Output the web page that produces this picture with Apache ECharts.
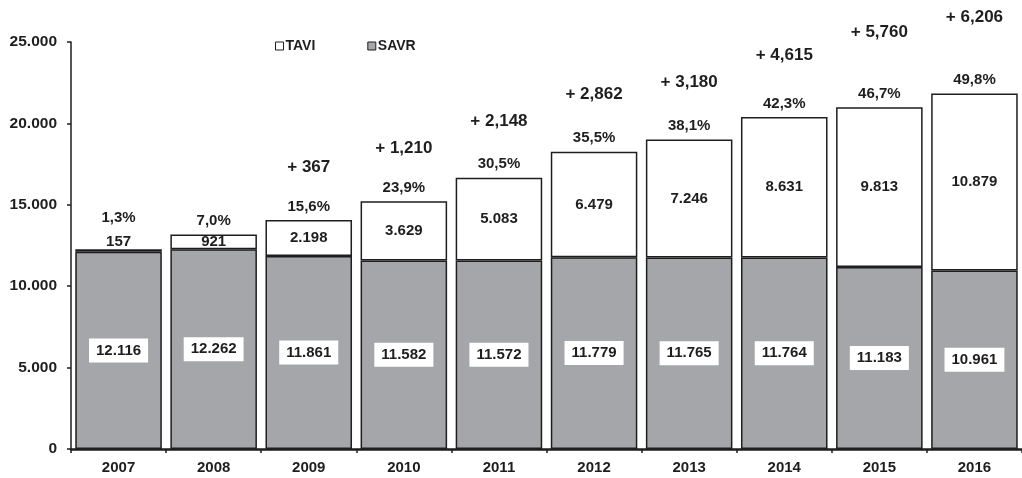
<!DOCTYPE html>
<html>
<head>
<meta charset="utf-8">
<script src="https://cdn.jsdelivr.net/npm/echarts@6/dist/echarts.min.js"></script>
<style>
  html, body { margin: 0; background: #fff; }
  #chart { width: 1022px; height: 478px; }
</style>
</head>
<body>
<div id="chart"></div>
<script>
// values
const years = ['2007', '2008', '2009', '2010', '2011', '2012', '2013', '2014', '2015', '2016'];
const savr = [12116, 12262, 11861, 11582, 11572, 11779, 11765, 11764, 11183, 10961];
const tavi = [157, 921, 2198, 3629, 5083, 6479, 7246, 8631, 9813, 10879];
const taviShare = [1.3, 7.0, 15.6, 23.9, 30.5, 35.5, 38.1, 42.3, 46.7, 49.8];
const gains = [null, null, 367, 1210, 2148, 2862, 3180, 4615, 5760, 6206];
// height (in axis units) where each "+ n" note sits
const gainLabelAt = [null, null, 17300, 18500, 20100, 21800, 22500, 24200, 25600, 26500];

const FONT = '"Liberation Sans", Arial, sans-serif';
const INK = '#1e1e1e';
const GREY = '#a4a6a9';

const dotted = n => String(n).replace(/\B(?=(\d{3})+(?!\d))/g, '.');
const commaed = n => String(n).replace(/\B(?=(\d{3})+(?!\d))/g, ',');

const totals = savr.map((v, i) => v + tavi[i]);

const taviData = tavi.map(v => {
  // tiny slices get their number on top of the bar
  if (v < 500) return { value: v, label: { position: 'top', distance: 0 } };
  return v;
});

const shareData = totals.map((v, i) => {
  if (tavi[i] < 500) return { value: v, label: { distance: 24 } };
  return v;
});

const noteLabel = size => ({
  show: true,
  color: INK,
  fontWeight: 'bold',
  fontSize: size,
  fontFamily: FONT,
  opacity: 1
});

const chart = echarts.init(document.getElementById('chart'));

chart.setOption({
  animation: false,
  textStyle: { fontFamily: FONT },
  legend: {
    data: ['TAVI', 'SAVR'],
    left: 270,
    top: 34,
    icon: 'rect',
    itemWidth: 8,
    itemHeight: 8,
    itemGap: 52,
    itemStyle: { borderWidth: 1, borderColor: INK },
    textStyle: { fontFamily: FONT, fontWeight: 'bold', fontSize: 14, color: INK, padding: [0, 0, 0, -3] }
  },
  grid: { left: 71, top: 42, bottom: 29, width: 960 },
  xAxis: {
    type: 'category',
    data: years,
    axisLine: { lineStyle: { color: INK, width: 2.5 } },
    axisTick: { show: true, length: 4, lineStyle: { color: INK, width: 1.5 } },
    axisLabel: { color: INK, fontWeight: 'bold', fontSize: 15, fontFamily: FONT, margin: 11 }
  },
  yAxis: {
    type: 'value',
    min: 0,
    max: 25000,
    interval: 5000,
    splitLine: { show: false },
    axisLine: { show: true, lineStyle: { color: INK, width: 1.5 } },
    axisTick: { show: true, length: 4, lineStyle: { color: INK, width: 1.5 } },
    axisLabel: {
      color: INK, fontWeight: 'bold', fontSize: 15.5, fontFamily: FONT, margin: 14,
      formatter: v => dotted(v)
    }
  },
  series: [
    {
      name: 'SAVR',
      type: 'bar',
      stack: 'all',
      data: savr,
      barCategoryGap: '9%',
      itemStyle: { color: GREY, borderColor: INK, borderWidth: 1.5 },
      label: {
        show: true,
        position: 'inside',
        formatter: p => dotted(p.value),
        backgroundColor: '#fff',
        padding: [5, 7, 4, 7],
        color: INK,
        fontWeight: 'bold',
        fontSize: 15,
        fontFamily: FONT
      }
    },
    {
      name: 'TAVI',
      type: 'bar',
      stack: 'all',
      data: taviData,
      itemStyle: { color: '#fff', borderColor: INK, borderWidth: 1.5 },
      label: {
        show: true,
        position: 'inside',
        formatter: p => dotted(p.value),
        color: INK,
        fontWeight: 'bold',
        fontSize: 15,
        fontFamily: FONT
      }
    },
    {
      name: 'share',
      type: 'scatter',
      data: shareData,
      symbolSize: 0,
      clip: false,
      itemStyle: { color: '#fff', opacity: 1 },
      emphasis: { disabled: true },
      z: 5,
      label: Object.assign(noteLabel(15), {
        position: 'top',
        distance: 6,
        formatter: p => taviShare[p.dataIndex].toFixed(1).replace('.', ',') + '%'
      })
    },
    {
      name: 'gain',
      type: 'scatter',
      data: gainLabelAt,
      symbolSize: 0,
      clip: false,
      itemStyle: { color: '#fff', opacity: 1 },
      emphasis: { disabled: true },
      z: 5,
      label: Object.assign(noteLabel(17), {
        position: 'inside',
        formatter: p => '+ ' + commaed(gains[p.dataIndex])
      })
    }
  ]
});
</script>
</body>
</html>
